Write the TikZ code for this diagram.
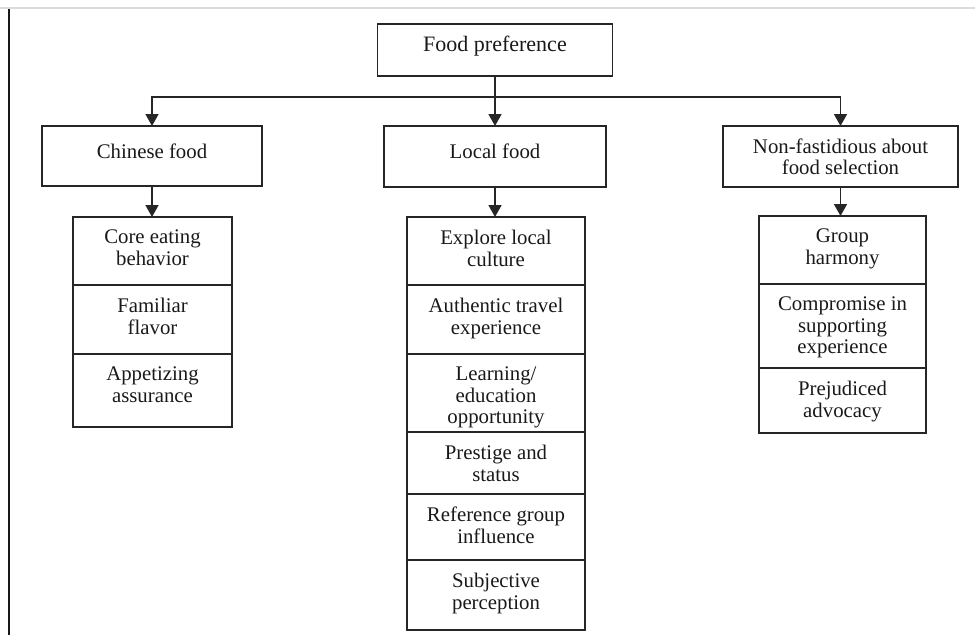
\documentclass[tikz,border=0pt]{standalone}
\usepackage{fontspec}
\setmainfont{Liberation Serif}
\usetikzlibrary{arrows.meta}

\tikzset{
  box/.style={draw=black!85, line width=1.9pt, inner sep=0pt, outer sep=0pt, text=black!90,
    font=\fontsize{20.8}{21.4}\selectfont},
  cell/.style={box, anchor=north},
  celltext/.style={anchor=north, inner sep=0pt, align=center, text=black!90,
    font=\fontsize{20.8}{21.4}\selectfont},
  link/.style={draw=black!85, line width=1.7pt, -{Triangle[width=13pt,length=12pt]}},
}

\begin{document}
\begin{tikzpicture}[x=1pt,y=-1pt]
        \useasboundingbox (0,0) rectangle (975,635);
        \draw[black!14, line width=1.3pt] (0,8) -- (975,8);
        \draw[black!90, line width=1.5pt] (9,9) -- (9,635);

        \node[box, minimum width=235pt, minimum height=52pt, text depth=12pt,
          font=\fontsize{22}{23}\selectfont] (pref) at (495,50) {Food preference};
        \node[box, minimum width=220pt, minimum height=60pt, text depth=10pt] (chinese) at (152,156) {Chinese food};
        \node[box, minimum width=222pt, minimum height=61pt, text depth=10pt] (local) at (495,156.5) {Local food};
        \node[box, minimum width=235pt, minimum height=61pt, align=center] (nonfas) at (840.5,156.5)
          {Non-fastidious about\\food selection};

        \coordinate (bus) at (0,97);
        \draw[link] (pref.south) -- (local.north);
        \draw[link] (pref.south |- bus) -| (chinese.north);
        \draw[link] (pref.south |- bus) -| (nonfas.north);

        \foreach \n/\t/\b/\txt in {1/217/285/{Core eating\\behavior},
            2/285/354/{Familiar\\flavor}, 3/354/427/{Appetizing\\assurance}} {
            \node[cell, minimum width=159pt, minimum height=\b-\t] (ch\n) at (152.5,\t) {};
            \node[celltext] (cht\n) at ([yshift=-13pt]ch\n.north) {\txt};
          }
        \foreach \n/\t/\b/\txt in {1/217/285/{Explore local\\culture},
            2/285/354/{Authentic travel\\experience}, 3/354/432/{Learning/\\education\\opportunity},
            4/432/494/{Prestige and\\status}, 5/494/560/{Reference group\\influence},
            6/560/630/{Subjective\\perception}} {
            \node[cell, minimum width=178pt, minimum height=\b-\t] (lo\n) at (496,\t) {};
            \node[celltext] (lot\n) at ([yshift=-13pt]lo\n.north) {\txt};
          }
        \foreach \n/\t/\b/\txt in {1/216/284/{Group\\harmony},
            2/284/368/{Compromise in\\supporting\\experience}, 3/368/433/{Prejudiced\\advocacy}} {
            \node[cell, minimum width=167pt, minimum height=\b-\t] (nf\n) at (842.5,\t) {};
            \node[celltext] (nft\n) at ([yshift=-13pt]nf\n.north) {\txt};
          }

        \draw[link] (chinese.south) -- (chinese.south |- ch1.north);
        \draw[link] (local.south) -- (local.south |- lo1.north);
        \draw[link] (nonfas.south) -- (nonfas.south |- nf1.north);
      \end{tikzpicture}
\end{document}
